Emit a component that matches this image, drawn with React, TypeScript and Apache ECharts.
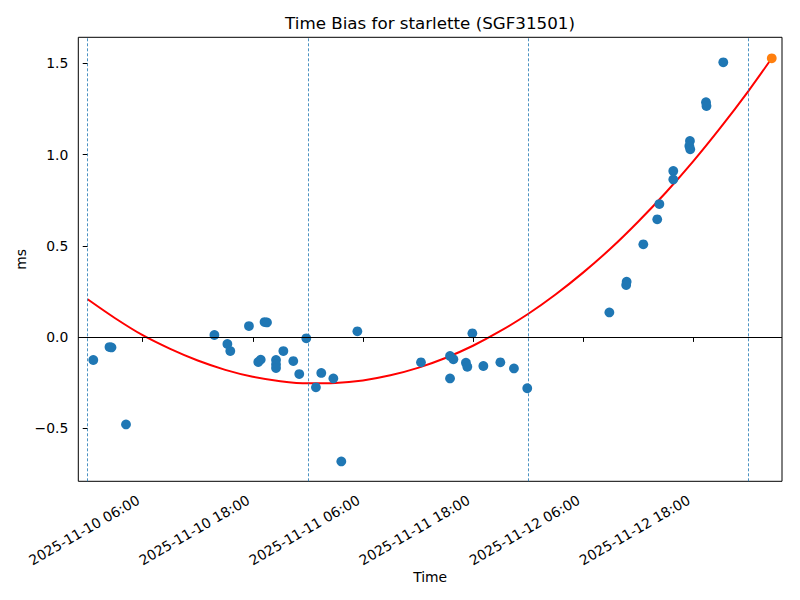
import React, { useEffect, useRef } from "react";
import * as echarts from "echarts";

const TITLE = "Time Bias for starlette (SGF31501)";
const X_NAME = "Time";
const Y_NAME = "ms";

const xTickLabels = [
  "2025-11-10 06:00",
  "2025-11-10 18:00",
  "2025-11-11 06:00",
  "2025-11-11 18:00",
  "2025-11-12 06:00",
  "2025-11-12 18:00",
];
const yTickValues = [-0.5, 0, 0.5, 1.0, 1.5];

const xRange = ["2025-11-09 22:59", "2025-11-13 03:41"];
const yRange = [-0.791, 1.643];

const dayBoundaries = [
  "2025-11-10 00:00",
  "2025-11-11 00:00",
  "2025-11-12 00:00",
  "2025-11-13 00:00",
];

const biasTimes = [
  "2025-11-10 00:37", "2025-11-10 02:23", "2025-11-10 02:36", "2025-11-10 04:11",
  "2025-11-10 13:49", "2025-11-10 15:14", "2025-11-10 15:33", "2025-11-10 17:35",
  "2025-11-10 18:36", "2025-11-10 18:52", "2025-11-10 19:17", "2025-11-10 19:33",
  "2025-11-10 20:32", "2025-11-10 20:32", "2025-11-10 20:32", "2025-11-10 21:20",
  "2025-11-10 22:25", "2025-11-10 23:04", "2025-11-10 23:50", "2025-11-11 00:53",
  "2025-11-11 01:28", "2025-11-11 02:47", "2025-11-11 03:39", "2025-11-11 05:24",
  "2025-11-11 12:20", "2025-11-11 15:30", "2025-11-11 15:52", "2025-11-11 15:30",
  "2025-11-11 17:14", "2025-11-11 17:23", "2025-11-11 17:56", "2025-11-11 19:08",
  "2025-11-11 20:59", "2025-11-11 22:28", "2025-11-11 23:55", "2025-11-12 08:52",
  "2025-11-12 10:45", "2025-11-12 10:42", "2025-11-12 12:34", "2025-11-12 14:05",
  "2025-11-12 14:19", "2025-11-12 15:50", "2025-11-12 15:50", "2025-11-12 17:39",
  "2025-11-12 17:35", "2025-11-12 17:41", "2025-11-12 19:24", "2025-11-12 19:27",
  "2025-11-12 21:17",
];
const biasValues = [
  -0.126, -0.055, -0.057, -0.479,
  0.011, -0.038, -0.077, 0.060,
  -0.137, -0.124, 0.082, 0.080,
  -0.126, -0.150, -0.170, -0.077,
  -0.132, -0.203, -0.007, -0.276,
  -0.197, -0.227, -0.682, 0.031,
  -0.139, -0.104, -0.122, -0.227,
  -0.141, -0.163, 0.020, -0.159,
  -0.139, -0.172, -0.281, 0.135,
  0.303, 0.285, 0.508, 0.645,
  0.729, 0.910, 0.864, 1.075,
  1.047, 1.029, 1.287, 1.266,
  1.506,
];

const predTimes = ["2025-11-13 02:34"];
const predValues = [1.528];

const fitTimes = [
  "2025-11-10 00:00", "2025-11-10 03:00", "2025-11-10 06:00", "2025-11-10 09:00",
  "2025-11-10 12:00", "2025-11-10 15:00", "2025-11-10 18:00", "2025-11-10 21:00",
  "2025-11-11 00:00", "2025-11-11 03:00", "2025-11-11 06:00", "2025-11-11 09:00",
  "2025-11-11 12:00", "2025-11-11 15:00", "2025-11-11 18:00", "2025-11-11 21:00",
  "2025-11-12 00:00", "2025-11-12 03:00", "2025-11-12 06:00", "2025-11-12 09:00",
  "2025-11-12 12:00", "2025-11-12 15:00", "2025-11-12 18:00", "2025-11-12 21:00",
  "2025-11-13 00:00", "2025-11-13 02:34",
];
const fitValues = [
  0.207, 0.103, 0.010, -0.065,
  -0.129, -0.180, -0.218, -0.242,
  -0.254, -0.252, -0.238, -0.210,
  -0.169, -0.115, -0.048, 0.033,
  0.126, 0.233, 0.353, 0.485,
  0.632, 0.791, 0.963, 1.149,
  1.347, 1.528,
];

const BASE = Date.UTC(2025, 10, 10, 0, 0);
function toHours(s: string): number {
  const [d, t] = s.split(" ");
  const [Y, M, D] = d.split("-").map(Number);
  const [h, m] = t.split(":").map(Number);
  return (Date.UTC(Y, M - 1, D, h, m) - BASE) / 3600000;
}

const FONT = "DejaVu Sans";

export default function App() {
  const ref = useRef<HTMLDivElement>(null);
  useEffect(() => {
    if (!ref.current) return;
    const chart = echarts.init(ref.current, undefined, { renderer: "svg" });
    const xTickVals = xTickLabels.map(toHours);
    const labelFor = (v: number) => {
      let best = 0;
      for (let i = 0; i < xTickVals.length; i++) {
        if (Math.abs(xTickVals[i] - v) < Math.abs(xTickVals[best] - v)) best = i;
      }
      return xTickLabels[best];
    };
    const option: any = {
      animation: false,
      backgroundColor: "#ffffff",
      textStyle: { fontFamily: FONT },
      graphic: [
        {
          type: "text",
          x: 430,
          y: 23,
          style: {
            text: TITLE,
            fill: "#000",
            font: `16.7px '${FONT}'`,
            textAlign: "center",
            textVerticalAlign: "middle",
          },
        },
      ],
      grid: {
        left: 78.3,
        right: 18,
        top: 37.3,
        bottom: 118.7,
        show: true,
        borderColor: "#000",
        borderWidth: 1,
        backgroundColor: "transparent",
      },
      xAxis: {
        type: "value",
        min: toHours(xRange[0]),
        max: toHours(xRange[1]),
        name: X_NAME,
        nameLocation: "middle",
        nameGap: 89,
        nameMoveOverlap: false,
        nameTextStyle: { fontSize: 13.9, color: "#000", fontFamily: FONT },
        axisLine: { show: false },
        splitLine: { show: false },
        axisTick: {
          show: true,
          inside: false,
          length: 4.9,
          lineStyle: { color: "#000", width: 1 },
          customValues: xTickVals,
        },
        axisLabel: {
          show: true,
          rotate: 30,
          margin: 15,
          padding: [0, 5, 0, 0],
          fontSize: 13.9,
          color: "#000",
          fontFamily: FONT,
          customValues: xTickVals,
          formatter: (v: number) => labelFor(v),
        },
      },
      yAxis: {
        type: "value",
        min: yRange[0],
        max: yRange[1],
        name: Y_NAME,
        nameLocation: "middle",
        nameGap: 50,
        nameRotate: 90,
        nameMoveOverlap: false,
        nameTextStyle: { fontSize: 13.9, color: "#000", fontFamily: FONT },
        axisLine: { show: false },
        splitLine: { show: false },
        axisTick: {
          show: true,
          inside: false,
          length: 4.9,
          lineStyle: { color: "#000", width: 1 },
          customValues: yTickValues,
        },
        axisLabel: {
          show: true,
          margin: 10,
          fontSize: 13.9,
          color: "#000",
          fontFamily: FONT,
          customValues: yTickValues,
          formatter: (v: number) => (v < 0 ? "\u2212" : "") + Math.abs(v).toFixed(1),
        },
      },
      series: [
        {
          name: "fit",
          type: "line",
          data: fitTimes.map((t, i) => [toHours(t), fitValues[i]]),
          smooth: 0.3,
          showSymbol: false,
          lineStyle: { color: "#ff0000", width: 2 },
          itemStyle: { color: "#ff0000" },
          z: 3,
          silent: true,
          markLine: {
            silent: true,
            symbol: ["none", "none"],
            label: { show: false },
            data: [
              { yAxis: 0, lineStyle: { color: "#000", width: 1, type: "solid" } },
              ...dayBoundaries.map((d) => ({
                xAxis: toHours(d),
                lineStyle: { color: "#1f77b4", width: 0.8, type: [3, 2] },
              })),
            ],
          },
        },
        {
          name: "bias",
          type: "scatter",
          data: biasTimes.map((t, i) => [toHours(t), biasValues[i]]),
          symbol: "circle",
          symbolSize: 9.8,
          itemStyle: { color: "#1f77b4", opacity: 1 },
          z: 4,
        },
        {
          name: "pred",
          type: "scatter",
          data: predTimes.map((t, i) => [toHours(t), predValues[i]]),
          symbol: "circle",
          symbolSize: 9.8,
          itemStyle: { color: "#ff7f0e", opacity: 1 },
          z: 5,
        },
      ],
    };
    chart.setOption(option);
    return () => chart.dispose();
  }, []);
  return (
    <div
      ref={ref}
      style={{ position: "fixed", left: 0, top: 0, width: 800, height: 600 }}
    />
  );
}
